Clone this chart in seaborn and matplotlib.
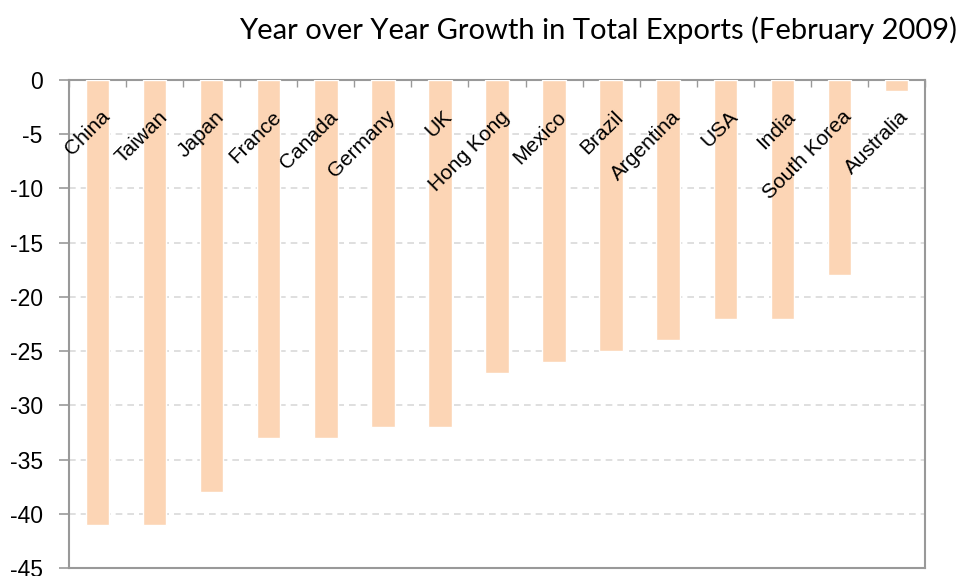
import numpy as np
import pandas as pd
import matplotlib
matplotlib.use('Agg')
import matplotlib.pyplot as plt
import seaborn as sns

# дані
countries = ['China', 'Taiwan', 'Japan', 'France', 'Canada', 'Germany', 'UK',
             'Hong Kong', 'Mexico', 'Brazil', 'Argentina', 'USA', 'India',
             'South Korea', 'Australia']
growth = [-41, -41, -38, -33, -33, -32, -32, -27, -26, -25, -24, -22, -22, -18, -1]
yticks = list(range(0, -50, -5))

df = pd.DataFrame({'Country': countries, 'Growth': growth})

sns.set_style('white')
plt.rcParams['font.family'] = ['Liberation Sans', 'DejaVu Sans']
plt.rcParams['text.color'] = 'black'
plt.rcParams['ytick.labelcolor'] = 'black'

fig, ax = plt.subplots(figsize=(9.63, 5.76), dpi=100)
fig.subplots_adjust(left=0.0717, right=0.9605, top=0.861, bottom=0.014)

sns.barplot(data=df, x='Country', y='Growth', color='#FCD5B5', width=0.41,
            saturation=1, ax=ax, zorder=3)

ax.set_ylim(-45, 0)
ax.set_xlim(-0.5, len(countries) - 0.5)
ax.set_yticks(yticks)
ax.set_yticklabels([str(v) for v in yticks], fontsize=16.5, color='black')
ax.set_xlabel('')
ax.set_ylabel('')

# сітка
for v in yticks[1:-1]:
    ax.axhline(v, color='#d9d9d9', linestyle=(0, (4, 3)), linewidth=1.2, zorder=1)

for s in ax.spines.values():
    s.set_color('#999999')
    s.set_linewidth(1.5)
    s.set_visible(True)

# мітки категорій всередині
ax.set_xticks([])
ax.set_xticks(np.arange(len(countries) + 1) - 0.5, minor=True)
ax.tick_params(axis='x', which='minor', direction='in', length=5, color='#999999',
               top=True, bottom=False, width=1)
ax.tick_params(axis='y', direction='out', length=7, color='#999999', width=1.2, left=True, pad=12)

for i, name in enumerate(countries):
    ax.text(i + 0.05, -2.5, name, rotation=45, ha='right', va='top',
            rotation_mode='anchor', fontsize=15, color='black', zorder=4)

fig.text(0.994, 0.948, 'Year over Year Growth in Total Exports (February 2009)',
         ha='right', va='center', fontsize=21, family=['Lato', 'DejaVu Sans'])

fig.savefig('out.png', dpi=100)
